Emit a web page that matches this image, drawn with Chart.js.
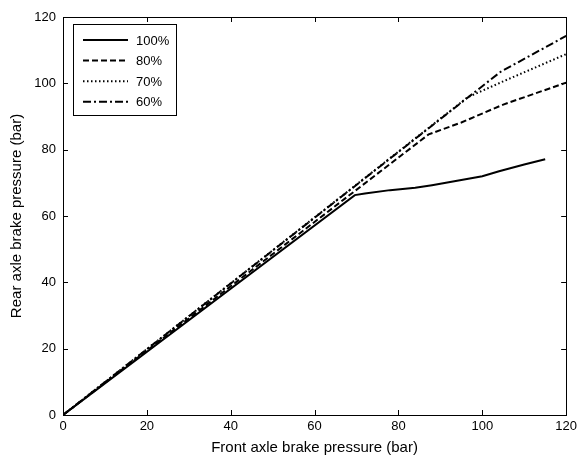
<!DOCTYPE html>
<html>
<head>
<meta charset="utf-8">
<script src="https://cdn.jsdelivr.net/npm/chart.js@4/dist/chart.umd.min.js"></script>
<style>
  html, body { margin: 0; padding: 0; background: #fff; }
  #wrap { width: 581px; height: 461px; }
</style>
</head>
<body>
<div id="wrap"><canvas id="c" width="581" height="461"></canvas></div>
<script>
// Front axle pressure (bar) and the matching rear axle pressure (bar) for each valve setting
const front100 = [0, 69.6, 72, 78, 84, 88, 94, 100, 104, 110, 115];
const rear100  = [0, 66.3, 66.8, 67.8, 68.5, 69.3, 70.6, 72, 73.5, 75.5, 77.1];

const front80 = [0, 87.2, 95, 105, 120];
const rear80  = [0, 84.6, 88.2, 93.6, 100.2];

const front70 = [0, 96.5, 105, 120];
const rear70  = [0, 95.8, 100.6, 108.8];

const front60 = [0, 104.4, 120];
const rear60  = [0, 103.5, 114.3];

const seriesLabels = ['100%', '80%', '70%', '60%'];
const axisTicks = [0, 20, 40, 60, 80, 100, 120];

const FONT = '"Liberation Sans", Arial, sans-serif';

function pairs(xs, ys) { return xs.map((x, i) => ({ x: x, y: ys[i] })); }

const dashes = [[], [6, 3], [1.5, 2.5], [8, 3, 2, 3]];
const sets = [[front100, rear100], [front80, rear80], [front70, rear70], [front60, rear60]];

const datasets = sets.map((s, i) => ({
  label: seriesLabels[i],
  data: pairs(s[0], s[1]),
  borderColor: '#000',
  borderWidth: 2,
  borderDash: dashes[i],
  pointRadius: 0,
  fill: false,
  tension: 0
}));

// Box around the plot area with inward tick marks on all four sides, plus the legend
const framePlugin = {
  id: 'frame',
  afterDraw(chart) {
    const ctx = chart.ctx;
    const a = chart.chartArea;
    const xs = chart.scales.x, ys = chart.scales.y;
    const tl = 5;
    ctx.save();
    ctx.strokeStyle = '#000';
    ctx.lineWidth = 1;
    ctx.setLineDash([]);
    ctx.strokeRect(Math.round(a.left) + 0.5, Math.round(a.top) + 0.5,
                   Math.round(a.right - a.left), Math.round(a.bottom - a.top));
    ctx.beginPath();
    axisTicks.forEach(v => {
      const px = Math.round(xs.getPixelForValue(v)) + 0.5;
      ctx.moveTo(px, a.bottom); ctx.lineTo(px, a.bottom - tl);
      ctx.moveTo(px, a.top); ctx.lineTo(px, a.top + tl);
      const py = Math.round(ys.getPixelForValue(v)) + 0.5;
      ctx.moveTo(a.left, py); ctx.lineTo(a.left + tl, py);
      ctx.moveTo(a.right, py); ctx.lineTo(a.right - tl, py);
    });
    ctx.stroke();

    // legend
    const bx = 73.5, by = 24.5, bw = 103, bh = 91;
    ctx.fillStyle = '#fff';
    ctx.fillRect(bx, by, bw, bh);
    ctx.strokeRect(bx, by, bw, bh);
    ctx.font = '13px ' + FONT;
    ctx.textBaseline = 'middle';
    ctx.textAlign = 'left';
    chart.data.datasets.forEach((ds, i) => {
      const y = 40 + i * 20.6;
      ctx.beginPath();
      ctx.lineWidth = 2;
      ctx.setLineDash(ds.borderDash);
      ctx.moveTo(83, y);
      ctx.lineTo(128, y);
      ctx.stroke();
      ctx.setLineDash([]);
      ctx.fillStyle = '#000';
      ctx.fillText(ds.label, 136, y + 1);
    });
    ctx.restore();
  }
};

new Chart(document.getElementById('c'), {
  type: 'line',
  data: { datasets: datasets },
  options: {
    responsive: false,
    animation: false,
    devicePixelRatio: 1,
    layout: { padding: { left: 0, top: 17, right: 12, bottom: 0 } },
    plugins: { legend: { display: false }, tooltip: { enabled: false } },
    scales: {
      x: {
        type: 'linear',
        min: 0, max: 120,
        grid: { display: false, drawTicks: false },
        border: { display: false },
        afterBuildTicks: s => { s.ticks = axisTicks.map(v => ({ value: v })); },
        ticks: { color: '#000', font: { family: FONT, size: 13 }, padding: 4, maxRotation: 0 },
        title: { display: true, text: 'Front axle brake pressure (bar)', color: '#000',
                 font: { family: FONT, size: 15 }, padding: { top: 5 } },
        afterFit: s => { s.height = 46; }
      },
      y: {
        type: 'linear',
        min: 0, max: 120,
        grid: { display: false, drawTicks: false },
        border: { display: false },
        afterBuildTicks: s => { s.ticks = axisTicks.map(v => ({ value: v })); },
        ticks: { color: '#000', font: { family: FONT, size: 13 }, padding: 7 },
        title: { display: true, text: 'Rear axle brake pressure (bar)', color: '#000',
                 font: { family: FONT, size: 15 }, padding: { top: 8 } },
        afterFit: s => { s.width = 63; }
      }
    }
  },
  plugins: [framePlugin]
});
</script>
</body>
</html>
